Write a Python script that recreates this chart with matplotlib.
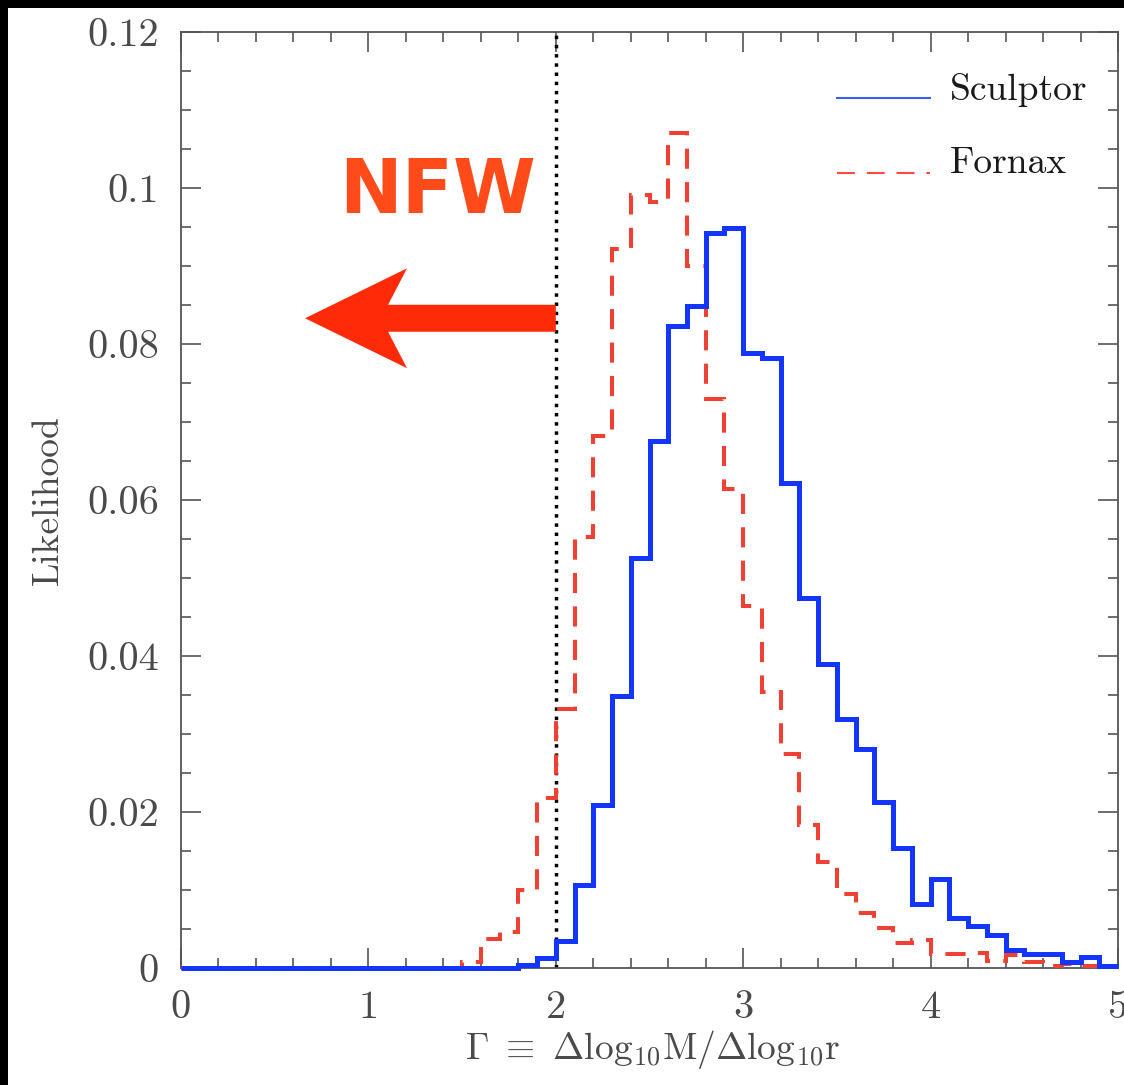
import numpy as np
import matplotlib
matplotlib.use("Agg")
import matplotlib.pyplot as plt
from matplotlib.patches import Rectangle, Polygon
from matplotlib.ticker import MultipleLocator, FuncFormatter

# histogram bins (Gamma), width 0.1 from 0 to 5
bin_edges = np.round(np.arange(0.0, 5.0001, 0.1), 2)

sculptor = [0.0] * 18 + [
    0.0004, 0.0013, 0.0034, 0.0106, 0.0209, 0.0349, 0.0526, 0.0675,
    0.0823, 0.0849, 0.0942, 0.0949, 0.0788, 0.0782, 0.0622, 0.0474,
    0.0390, 0.0319, 0.0281, 0.0213, 0.0154, 0.0082, 0.0114, 0.0064,
    0.0054, 0.0042, 0.0023, 0.0018, 0.0018, 0.0008, 0.0014, 0.0002]

fornax = [0.0] * 15 + [
    0.0008, 0.0037, 0.0046, 0.0100, 0.0218, 0.0332, 0.0553, 0.0682,
    0.0922, 0.0991, 0.0982, 0.1070, 0.0900, 0.0730, 0.0614, 0.0464,
    0.0354, 0.0275, 0.0183, 0.0136, 0.0095, 0.0070, 0.0051, 0.0032,
    0.0036, 0.0018, 0.0018, 0.0019, 0.0009, 0.0017, 0.0008, 0.0003,
    0.0005, 0.0003, 0.0001]

labels = ["Sculptor", "Fornax"]
nfw_gamma = 2.0

plt.rcParams['font.family'] = 'serif'
plt.rcParams['font.serif'] = ['cmr10']
plt.rcParams['mathtext.fontset'] = 'cm'
plt.rcParams['axes.formatter.use_mathtext'] = True

fig = plt.figure(figsize=(11.24, 10.85), dpi=100, facecolor='black')
# white page, black strip on top and left
fig.add_artist(Rectangle((8/1124., 0), 1.0, 1077/1085., transform=fig.transFigure,
                         fc='white', ec='none', zorder=-5))
ax = fig.add_axes([181/1124., 117/1085., 937/1124., 936/1085.])
ax.set_facecolor('white')

blue = '#1236ff'
red = '#ef4034'

ax.stairs(sculptor, bin_edges, baseline=None, color=blue, lw=3.6, zorder=4, clip_on=False)
ax.stairs(fornax, bin_edges, baseline=None, color=red, lw=2.9,
          linestyle=(0, (5, 3.3)), zorder=3, clip_on=False)
ax.axvline(nfw_gamma, color='black', ls=':', lw=2.5, zorder=2)

# "NFW" arrow pointing left from the dotted line
tip_x, tail_x, ay = 0.662, nfw_gamma, 0.0833
shaft_h, head_h = 0.00173, 0.0064
head_back, notch = 1.206, 1.105
arrow = Polygon([(tip_x, ay), (head_back, ay + head_h), (notch, ay + shaft_h),
                 (tail_x, ay + shaft_h), (tail_x, ay - shaft_h),
                 (notch, ay - shaft_h), (head_back, ay - head_h)],
                closed=True, fc='#ff2a08', ec='none', zorder=5)
ax.add_patch(arrow)
ax.text(1.37, 0.0968, 'NFW', ha='center', va='baseline', fontsize=54,
        fontweight='heavy', family='DejaVu Sans', color='#ff4a1a', zorder=5)

# legend drawn by hand
ax.plot([0.700, 0.799], [0.9295, 0.9295], transform=ax.transAxes, color='#3a5cff', lw=1.5)
ax.plot([0.700, 0.799], [0.849, 0.849], transform=ax.transAxes, color='#ff4a40', lw=1.5,
        linestyle=(0, (8.6, 5.7)))
ax.text(0.8207, 0.9275, labels[0], transform=ax.transAxes, fontsize=27,
        va='baseline', ha='left', color='#1a1a1a')
ax.text(0.8207, 0.849, labels[1], transform=ax.transAxes, fontsize=27,
        va='baseline', ha='left', color='#1a1a1a')

ax.set_xlim(0, 5)
ax.set_ylim(0, 0.12)
ax.xaxis.set_major_locator(MultipleLocator(1))
ax.xaxis.set_minor_locator(MultipleLocator(0.2))
ax.yaxis.set_major_locator(MultipleLocator(0.02))
ax.yaxis.set_minor_locator(MultipleLocator(0.005))
ax.yaxis.set_major_formatter(FuncFormatter(lambda v, p: '%g' % round(v, 4)))
ax.xaxis.set_major_formatter(FuncFormatter(lambda v, p: '%g' % round(v, 4)))

ax.tick_params(which='both', direction='in', top=True, right=True, color='#555555',
               labelcolor='#4a4a4a', labelsize=29)
ax.tick_params(which='major', length=14.5, width=1.2, pad=16)
ax.tick_params(which='minor', length=7.2, width=1.2)
for sp in ax.spines.values():
    sp.set_color('#555555')
    sp.set_linewidth(1.3)

ax.set_ylabel('Likelihood', fontsize=27, color='#4a4a4a', va='center')
ax.yaxis.set_label_coords(-0.142, 0.5)
ax.set_xlabel(r'$\Gamma\ \equiv\ \Delta\mathrm{log}_{10}\mathrm{M}/\Delta\mathrm{log}_{10}\mathrm{r}$',
              fontsize=27, color='#4a4a4a', va='center')
ax.xaxis.set_label_coords(0.503, -0.0876)

fig.savefig('out.png', dpi=100)
